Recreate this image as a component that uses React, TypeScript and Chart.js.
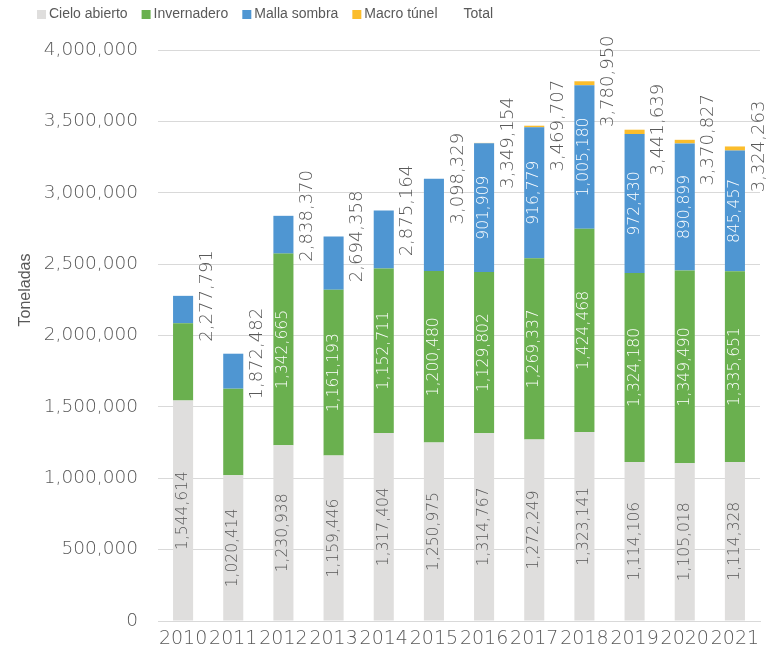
import React, { useEffect, useRef } from "react";
import { Chart, registerables } from "chart.js";

Chart.register(...registerables);

const years = ["2010", "2011", "2012", "2013", "2014", "2015", "2016", "2017", "2018", "2019", "2020", "2021"];
const cieloAbierto = [1544614, 1020414, 1230938, 1159446, 1317404, 1250975, 1314767, 1272249, 1323141, 1114106, 1105018, 1114328];
const invernadero = [541000, 607000, 1342665, 1161193, 1152711, 1200480, 1129802, 1269337, 1424468, 1324180, 1349490, 1335651];
const mallaSombra = [192177, 245068, 264767, 373719, 405049, 646874, 901909, 916779, 1005180, 972430, 890899, 845457];
const macroTunel = [0, 0, 0, 0, 0, 0, 2676, 11342, 28161, 30923, 25420, 28827];
const total = [2277791, 1872482, 2838370, 2694358, 2875164, 3098329, 3349154, 3469707, 3780950, 3441639, 3370827, 3324263];

// which years carry a value label inside the segment
const cieloLabelYears = years;
const invernaderoLabelYears = ["2012", "2013", "2014", "2015", "2016", "2017", "2018", "2019", "2020", "2021"];
const mallaLabelYears = ["2016", "2017", "2018", "2019", "2020", "2021"];

const NUM_FONT = "'DejaVu Sans', sans-serif";
const TXT_FONT = "'Liberation Sans', sans-serif";
const GREY_TEXT = "#595959";

const fmt = (v: number) => v.toLocaleString("en-US");

const drawRotated = (ctx: CanvasRenderingContext2D, text: string, x: number, y: number) => {
  ctx.save();
  ctx.translate(x, y);
  ctx.rotate(-Math.PI / 2);
  ctx.textAlign = "center";
  ctx.textBaseline = "middle";
  ctx.fillText(text, 0, 0);
  ctx.restore();
};

const labelsPlugin = {
  id: "customLabels",
  afterDatasetsDraw(chart: any) {
    const ctx: CanvasRenderingContext2D = chart.ctx;
    chart.data.datasets.forEach((ds: any, di: number) => {
      const meta = chart.getDatasetMeta(di);
      const cfg = ds.labelCfg;
      if (!cfg) return;
      meta.data.forEach((el: any, i: number) => {
        const year = chart.data.labels[i];
        if (!cfg.years.includes(year)) return;
        const v = ds.data[i];
        ctx.fillStyle = cfg.color;
        ctx.font = cfg.font;
        if (cfg.kind === "inside") {
          drawRotated(ctx, fmt(v), el.x, (el.y + el.base) / 2);
        } else {
          drawRotated(ctx, fmt(v), el.x + cfg.dx, el.y);
        }
      });
    });
  },
  afterDraw(chart: any) {
    const ctx: CanvasRenderingContext2D = chart.ctx;
    // legend
    ctx.save();
    ctx.font = `14px ${TXT_FONT}`;
    ctx.textBaseline = "middle";
    ctx.textAlign = "left";
    let x = 37;
    const yc = 14.5;
    chart.data.datasets.forEach((ds: any) => {
      if (ds.legendBox !== false) {
        ctx.fillStyle = ds.backgroundColor;
        ctx.fillRect(x, yc - 4.5, 9, 9);
      }
      ctx.fillStyle = GREY_TEXT;
      ctx.fillText(ds.label, x + 12, yc);
      x += 12 + ctx.measureText(ds.label).width + 14;
    });
    // y axis title
    ctx.font = `16px ${TXT_FONT}`;
    ctx.fillStyle = GREY_TEXT;
    drawRotated(ctx, "Toneladas", 26, 290);
    ctx.restore();
  },
};

export default function App() {
  const ref = useRef<HTMLCanvasElement | null>(null);
  useEffect(() => {
    if (!ref.current) return;
    const chart = new Chart(ref.current, {
      type: "bar",
      data: {
        labels: years,
        datasets: [
          {
            label: "Cielo abierto",
            data: cieloAbierto,
            backgroundColor: "#dfdedd",
            labelCfg: { kind: "inside", years: cieloLabelYears, color: GREY_TEXT, font: `200 15.5px ${NUM_FONT}` },
          } as any,
          {
            label: "Invernadero",
            data: invernadero,
            backgroundColor: "#6ab04f",
            labelCfg: { kind: "inside", years: invernaderoLabelYears, color: "#ffffff", font: `200 15.5px ${NUM_FONT}` },
          } as any,
          {
            label: "Malla sombra",
            data: mallaSombra,
            backgroundColor: "#4f96d2",
            labelCfg: { kind: "inside", years: mallaLabelYears, color: "#ffffff", font: `200 15.5px ${NUM_FONT}` },
          } as any,
          {
            label: "Macro túnel",
            data: macroTunel,
            backgroundColor: "#fbbd2c",
          } as any,
          {
            type: "line",
            label: "Total",
            data: total,
            stack: "total",
            showLine: false,
            pointRadius: 0,
            pointHoverRadius: 0,
            borderColor: "transparent",
            backgroundColor: "transparent",
            legendBox: false,
            labelCfg: { kind: "right", dx: 24, years: years, color: GREY_TEXT, font: `200 18px ${NUM_FONT}` },
          } as any,
        ],
      },
      options: {
        animation: false,
        responsive: true,
        maintainAspectRatio: false,
        layout: { padding: { top: 50, right: 15, left: 0, bottom: 0 } },
        datasets: {
          bar: { categoryPercentage: 1, barPercentage: 0.4 },
        },
        plugins: {
          legend: { display: false },
          tooltip: { enabled: false },
        },
        scales: {
          x: {
            stacked: true,
            grid: { display: false, drawTicks: false },
            border: { display: true, color: "#d9d9d9" },
            ticks: {
              color: GREY_TEXT,
              font: { family: NUM_FONT, size: 19, weight: 200 },
              padding: 7,
              maxRotation: 0,
              autoSkip: false,
            },
            afterFit: (s: any) => {
              s.height = 36;
            },
          },
          y: {
            stacked: true,
            min: 0,
            max: 4000000,
            grid: { color: "#d9d9d9", drawTicks: false },
            border: { display: false },
            ticks: {
              stepSize: 500000,
              color: GREY_TEXT,
              font: { family: NUM_FONT, size: 18.5, weight: 200 },
              padding: 20,
              callback: (v: any) => fmt(Number(v)),
            },
            afterFit: (s: any) => {
              s.width = 158;
            },
          },
        },
      } as any,
      plugins: [labelsPlugin],
    });
    return () => chart.destroy();
  }, []);
  return (
    <div style={{ position: "absolute", left: 0, top: 0, width: 775, height: 657 }}>
      <canvas ref={ref} />
    </div>
  );
}
